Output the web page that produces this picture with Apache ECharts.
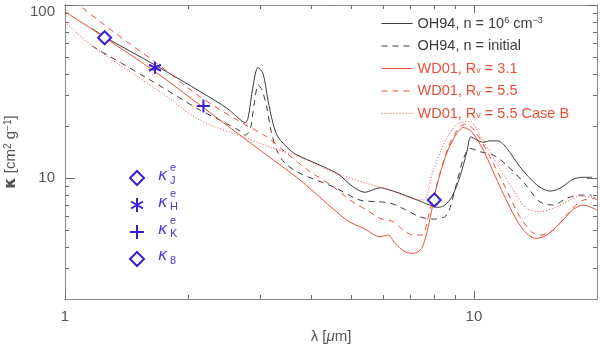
<!DOCTYPE html>
<html>
<head>
<meta charset="utf-8">
<script src="https://cdn.jsdelivr.net/npm/echarts@6/dist/echarts.min.js"></script>
<style>
  html, body { margin: 0; padding: 0; background: #fff; }
  #chart { width: 600px; height: 347px; }
</style>
</head>
<body>
<div id="chart"></div>
<script>
// opacity curves, wavelength in micron / kappa in cm^2 g^-1
const oh94DenseLam = [1.164, 1.26, 1.66, 2.175, 2.49, 2.634, 2.755, 2.802, 2.882, 2.964, 3.049, 3.136, 3.226, 3.317, 3.549, 3.692, 4.624, 5.061, 5.415, 5.89, 6.231, 6.594, 7.094, 7.805, 8.166, 8.494, 8.836, 9.242, 9.613, 9.833, 10.17, 10.52, 10.94, 11.45, 12.04, 12.96, 14.26, 15.34, 16.23, 17.46, 18.48, 19.44];
const oh94DenseKap = [73.3, 64.7, 45.0, 30.9, 25.3, 22.6, 20.9, 22.1, 33.7, 43.5, 40.3, 28.2, 20.7, 17.3, 14.5, 13.6, 10.65, 8.91, 8.27, 8.79, 8.52, 8.16, 7.63, 6.98, 6.77, 6.98, 7.80, 10.17, 14.2, 17.3, 16.6, 16.1, 16.4, 16.4, 14.85, 11.6, 9.11, 8.41, 8.72, 9.83, 10.1, 10.1];

const oh94InitLam = [1.164, 1.614, 2.138, 2.393, 2.679, 2.755, 2.834, 2.899, 2.97, 3.032, 3.113, 3.189, 3.293, 3.451, 3.755, 4.529, 5.264, 5.89, 6.231, 6.594, 7.379, 7.952, 8.578, 9.072, 9.4, 9.777, 10.34, 11.15, 12.02, 13.2, 14.5, 15.63, 16.85, 18.17, 19.4];
const oh94InitKap = [57.9, 36.9, 24.7, 21.6, 18.7, 17.7, 18.9, 26.4, 34.5, 32.3, 25.8, 18.9, 14.5, 12.2, 10.65, 8.91, 7.46, 7.29, 7.17, 6.8, 5.97, 5.79, 6.11, 9.32, 12.7, 14.85, 14.2, 13.6, 11.9, 9.52, 7.29, 6.98, 7.63, 7.97, 7.97];

const wd31Lam = [1.0, 1.241, 1.66, 2.18, 2.998, 3.755, 4.885, 5.415, 5.89, 6.172, 6.411, 6.782, 7.105, 7.449, 7.731, 8.106, 8.578, 9.072, 9.415, 9.871, 10.54, 11.58, 12.72, 13.45, 14.18, 15.06, 16.23, 17.49, 18.5, 20];
const wd31Kap = [91.5, 65.6, 41.2, 25.5, 14.5, 9.74, 5.72, 5.07, 4.58, 4.68, 4.19, 3.75, 3.67, 3.92, 5.23, 8.91, 13.9, 18.1, 19.6, 18.5, 14.5, 8.91, 5.72, 4.79, 4.48, 4.68, 5.47, 6.59, 6.98, 6.53];

const wd55Lam = [1.0, 1.088, 1.313, 1.676, 2.138, 2.724, 3.113, 3.484, 3.972, 4.529, 4.976, 5.569, 5.89, 6.35, 6.716, 7.105, 7.449, 7.805, 8.258, 8.735, 9.242, 9.597, 10.15, 10.94, 12.02, 12.96, 13.84, 14.5, 15.63, 16.85, 18.17, 19.58, 20];
const wd55Kap = [115, 98.7, 70.1, 46.0, 29.5, 20.7, 17.3, 13.9, 10.9, 8.91, 7.46, 6.36, 5.85, 5.59, 5.0, 4.68, 4.68, 6.53, 10.65, 15.9, 19.8, 20.5, 18.1, 13.3, 8.52, 5.97, 4.89, 4.68, 5.0, 6.11, 7.29, 7.63, 7.5];

const wd55bLam = [1.0, 1.173, 1.707, 2.138, 2.724, 3.171, 3.755, 4.521, 5.466, 6.231, 6.975, 7.516, 7.952, 8.578, 9.155, 9.777, 10.34, 11.36, 12.48, 13.45, 14.5, 15.63, 16.85, 18.17, 19.58, 20];
const wd55bKap = [79.7, 57.4, 31.5, 21.6, 17.3, 15.1, 13.2, 10.8, 9.32, 8.52, 7.66, 7.46, 11.1, 17.0, 20.7, 21.2, 17.7, 12.2, 8.52, 6.68, 6.39, 6.68, 7.29, 7.87, 7.73, 7.7];

// band opacities J, H, K, 8 micron
const bandNames = ['kJ', 'kH', 'kK', 'k8'];
const bandLam = [1.25, 1.66, 2.18, 8.0];
const bandKap = [64.7, 43.4, 26.1, 7.46];
const bandSup = ['e', 'e', 'e', ''];
const bandSub = ['J', 'H', 'K', '8'];

const xRange = [1, 20];
const yRange = [2, 100];
const xMajor = [1, 10];
const xMinor = [2, 3, 4, 5, 6, 7, 8, 9, 20];
const yMajor = [10, 100];
const yMinor = [3, 4, 5, 6, 7, 8, 9, 20, 30, 40, 50, 60, 70, 80, 90];

const lineNames = ['OH94 dense', 'OH94 initial', 'WD01 3.1', 'WD01 5.5', 'WD01 5.5 B'];
const lineLabels = [
    'OH94, n = 10{sup|6} cm{sup|−3}',
    'OH94, n = initial',
    'WD01, R{sub|v} = 3.1',
    'WD01, R{sub|v} = 5.5',
    'WD01, R{sub|v} = 5.5 Case B'
];

const BLACK = '#3c3c3c';
const RED = '#e8503c';
const BLUE = '#3a20d0';
const AXIS = '#8a8a8a';
const TICK = '#6a6a6a';
const FONT = '"Liberation Sans", Arial, sans-serif';

const zip = (a, b) => a.map((v, i) => [v, b[i]]);

function lineSeries(name, lam, kap, color, type) {
    return {
        name: name,
        type: 'line',
        data: zip(lam, kap),
        showSymbol: false,
        symbol: 'none',
        smooth: 0.3,
        clip: true,
        lineStyle: { color: color, width: 1, type: type },
        itemStyle: { color: color },
        emphasis: { disabled: true }
    };
}

const asterisk = 'path://M0,-10L0,10M-8.66,-5L8.66,5M-8.66,5L8.66,-5';
const plusMark = 'path://M-10,0L10,0M0,-10L0,10';
const bandSymbols = ['diamond', asterisk, plusMark, 'diamond'];
const bandSizes = [13, 12, 13, 13];

function bandSeries(i) {
    return {
        name: bandNames[i],
        type: 'scatter',
        data: [[bandLam[i], bandKap[i]]],
        symbol: bandSymbols[i],
        symbolSize: bandSizes[i],
        z: 5,
        itemStyle: { color: '#fff', borderColor: BLUE, borderWidth: 2, opacity: 1 },
        emphasis: { disabled: true }
    };
}

// log axes: data scale, frame, labels and the major (decade) ticks
function logAxis(range, pos, ticks, len, labels, extra) {
    return Object.assign({
        type: 'log',
        logBase: 10,
        min: range[0],
        max: range[1],
        position: pos,
        axisLine: { show: true, onZero: false, lineStyle: { color: AXIS, width: 1 } },
        axisTick: { show: true, inside: true, length: len, customValues: ticks, lineStyle: { color: TICK, width: 1 } },
        axisLabel: labels ? {
            customValues: labels,
            color: '#555',
            fontSize: 15,
            fontFamily: FONT,
            margin: 10,
            formatter: v => (v === 100 ? '{t|100}' : String(v)),
            rich: { t: { fontSize: 15, fontFamily: FONT, color: '#555', padding: [14, 0, 0, 0] } }
        } : { show: false },
        splitLine: { show: false }
    }, extra || {});
}

// helper axes in log10 units, only used to draw the short minor ticks
function tickAxis(range, pos, ticks, len) {
    return {
        type: 'value',
        min: Math.log10(range[0]),
        max: Math.log10(range[1]),
        position: pos,
        axisLine: { show: true, onZero: false, lineStyle: { color: AXIS, width: 1 } },
        axisTick: { show: true, inside: true, length: len, customValues: ticks.map(Math.log10), lineStyle: { color: TICK, width: 1 } },
        axisLabel: { show: true, color: 'rgba(0,0,0,0)', fontSize: 8 },
        splitLine: { show: false }
    };
}

const chart = echarts.init(document.getElementById('chart'));

const option = {
    animation: false,
    backgroundColor: '#fff',
    grid: { left: 65, right: 3, top: 5, bottom: 48, outerBoundsMode: 'none' },
    xAxis: [
        logAxis(xRange, 'bottom', xMajor, 8, xMajor, {
            name: 'λ [{mu|μ}m]',
            nameLocation: 'middle',
            nameGap: 25,
            nameTextStyle: { fontSize: 15, fontFamily: FONT, color: '#555', rich: { mu: { fontSize: 15, fontStyle: 'italic', fontFamily: FONT, color: '#555' } } }
        }),
        logAxis(xRange, 'top', xMajor, 8, null),
        tickAxis(xRange, 'bottom', xMinor, 4),
        tickAxis(xRange, 'top', xMinor, 4)
    ],
    yAxis: [
        logAxis(yRange, 'left', yMajor, 10, yMajor, {
            name: '{k|κ} [cm{sup|2} g{sup|−1}]',
            nameLocation: 'middle',
            nameRotate: 90,
            nameGap: 44,
            nameTextStyle: {
                fontSize: 15, fontFamily: FONT, color: '#555',
                rich: {
                    k: { fontSize: 16, fontFamily: '"DejaVu Sans", sans-serif', fontWeight: 'bold', color: '#555' },
                    sup: { fontSize: 10, fontFamily: FONT, color: '#555', verticalAlign: 'top' }
                }
            }
        }),
        logAxis(yRange, 'right', yMajor, 10, null),
        tickAxis(yRange, 'left', yMinor, 4),
        tickAxis(yRange, 'right', yMinor, 4)
    ],
    legend: [
        {
            orient: 'vertical',
            left: 381,
            top: 16,
            padding: 0,
            itemWidth: 31,
            itemHeight: 14,
            itemGap: 7.5,
            selectedMode: false,
            itemStyle: { opacity: 0, color: 'transparent', borderWidth: 0 },
            lineStyle: { width: 1 },
            data: lineNames.map((n, i) => ({ name: n, textStyle: { color: i < 2 ? BLACK : RED } })),
            formatter: name => lineLabels[lineNames.indexOf(name)],
            textStyle: {
                fontSize: 14.5,
                fontFamily: FONT,
                lineHeight: 14,
                rich: {
                    sup: { fontSize: 9, fontFamily: FONT, verticalAlign: 'top', lineHeight: 14 },
                    sub: { fontSize: 9, fontFamily: FONT, verticalAlign: 'bottom', lineHeight: 14 }
                }
            }
        },
        {
            orient: 'vertical',
            left: 129,
            top: 170,
            padding: 0,
            itemWidth: 14,
            itemHeight: 14,
            itemGap: 11,
            selectedMode: false,
            data: bandNames.map((n, i) => ({
                name: n,
                icon: bandSymbols[i],
                itemStyle: { color: '#fff', borderColor: BLUE, borderWidth: 2 }
            })),
            formatter: () => '',
            textStyle: { fontSize: 8, lineHeight: 10 }
        }
    ],
    graphic: bandNames.map((n, i) => ({
        type: 'group',
        left: 158,
        top: 162 + 26.7 * i,
        children: [
            { type: 'text', x: 0, y: 0, style: { text: 'κ', font: 'italic 16px "DejaVu Sans", sans-serif', fill: '#4a38e0' } },
            { type: 'text', x: 12, y: -6, style: { text: bandSup[i], font: '11px ' + FONT, fill: '#4a38e0' } },
            { type: 'text', x: 12, y: 7, style: { text: bandSub[i], font: '11px ' + FONT, fill: '#4a38e0' } }
        ]
    })),
    series: [
        lineSeries(lineNames[0], oh94DenseLam, oh94DenseKap, BLACK, 'solid'),
        lineSeries(lineNames[1], oh94InitLam, oh94InitKap, BLACK, [6, 5]),
        lineSeries(lineNames[2], wd31Lam, wd31Kap, RED, 'solid'),
        lineSeries(lineNames[3], wd55Lam, wd55Kap, RED, [6, 5]),
        lineSeries(lineNames[4], wd55bLam, wd55bKap, RED, [1, 2]),
        bandSeries(0), bandSeries(1), bandSeries(2), bandSeries(3)
    ]
};

chart.setOption(option);
window.addEventListener('resize', () => chart.resize());
</script>
</body>
</html>
